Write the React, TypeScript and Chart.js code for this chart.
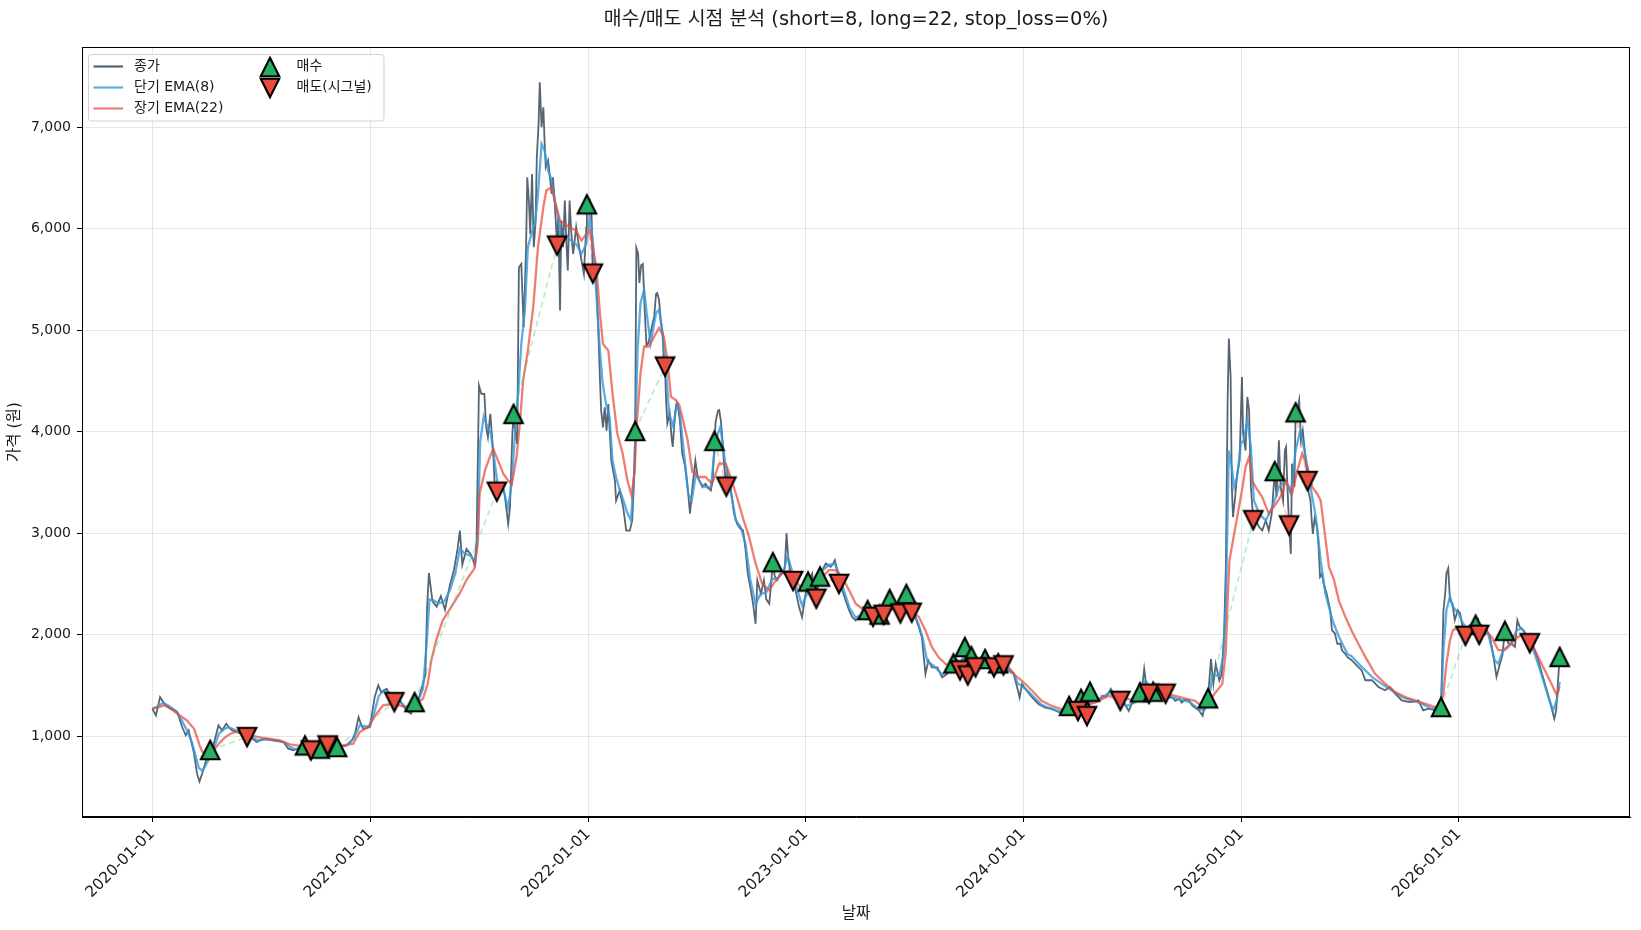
import React, { useEffect, useRef } from "react";
import { Chart, registerables } from "chart.js";

Chart.register(...registerables);

const FONT = '"DejaVu Sans", "Noto Sans CJK KR", sans-serif';
const TITLE = "매수/매도 시점 분석 (short=8, long=22, stop_loss=0%)";
const X_LABEL = "날짜";
const Y_LABEL = "가격 (원)";
const LEGEND_CLOSE = "종가";
const LEGEND_SHORT = "단기 EMA(8)";
const LEGEND_LONG = "장기 EMA(22)";
const LEGEND_BUY = "매수";
const LEGEND_SELL = "매도(시그널)";

// x values are days since 2020-01-01
const xTickDays = [0, 366, 731, 1096, 1461, 1827, 2192];
const xTickLabels = ["2020-01-01", "2021-01-01", "2022-01-01", "2023-01-01", "2024-01-01", "2025-01-01", "2026-01-01"];
const yTickValues = [1000, 2000, 3000, 4000, 5000, 6000, 7000];

const closeSeries = [
  [0,1272],[6,1207],[13,1387],[20,1321],[30,1272],[42,1239],[50,1092],[56,1010],[61,1059],[70,830],[75,633],[79,555],[84,640],[90,760],[97,860],[103,928],[111,1108],[117,1060],[124,1125],[130,1080],[134,1059],[142,1043],[153,1010],[159,993],[164,993],[175,944],[187,977],[203,961],[220,944],[228,879],[237,862],[248,895],[256,911],[262,880],[266,862],[275,890],[281,879],[288,900],[294,911],[302,890],[310,895],[326,911],[335,960],[340,1026],[346,1190],[350,1120],[354,1075],[365,1092],[373,1387],[379,1502],[384,1436],[393,1469],[400,1400],[406,1338],[415,1354],[426,1256],[434,1223],[440,1338],[446,1354],[454,1518],[458,1600],[461,2278],[464,2608],[470,2330],[477,2278],[484,2381],[491,2247],[499,2485],[506,2639],[512,2845],[516,3026],[520,2690],[527,2845],[534,2794],[541,2690],[544,2928],[548,4455],[552,4373],[557,4373],[560,4045],[563,3946],[567,4176],[572,3782],[575,3388],[578,3410],[583,3420],[587,3486],[591,3388],[597,3092],[600,3256],[604,3978],[606,4176],[608,4044],[612,3880],[615,5621],[619,5653],[623,5030],[627,5818],[629,6507],[632,6245],[634,5949],[637,6540],[640,5818],[643,6080],[645,6704],[648,7033],[650,7443],[653,7000],[656,7197],[658,6869],[660,6606],[664,6672],[667,6507],[670,6343],[672,6507],[675,6277],[679,5834],[681,6113],[684,5194],[686,6080],[689,5818],[692,6277],[695,5818],[697,5588],[700,6277],[703,5949],[706,5752],[711,6015],[716,5818],[720,5686],[724,5555],[728,6015],[729,6241],[734,6277],[737,6113],[739,5558],[744,5555],[748,5030],[751,4504],[753,4209],[756,4044],[759,4241],[762,4011],[765,4274],[767,4044],[770,3716],[773,3617],[776,3519],[778,3322],[784,3420],[790,3256],[795,3026],[801,3026],[805,3125],[808,3500],[810,4008],[812,5812],[815,5752],[817,5466],[820,5640],[823,5653],[826,5194],[829,4850],[832,4873],[836,4972],[839,5062],[842,5137],[845,5358],[847,5367],[850,5301],[853,5100],[856,4972],[858,4700],[860,4642],[862,4300],[864,4083],[868,4181],[871,3950],[873,3852],[877,4181],[879,4274],[881,4280],[885,4115],[889,3786],[894,3654],[898,3456],[902,3193],[904,3322],[906,3456],[911,3716],[915,3552],[918,3519],[923,3456],[928,3489],[932,3450],[937,3423],[940,3519],[943,3910],[945,4100],[949,4209],[951,4214],[954,4100],[957,3880],[959,3687],[963,3460],[965,3588],[968,3453],[970,3456],[976,3193],[981,3094],[986,3050],[991,3030],[995,2850],[999,2600],[1004,2440],[1008,2300],[1012,2109],[1015,2538],[1021,2406],[1026,2538],[1030,2350],[1035,2307],[1038,2500],[1041,2716],[1044,2580],[1048,2538],[1053,2600],[1057,2604],[1061,2650],[1064,3000],[1067,2736],[1071,2600],[1075,2531],[1079,2439],[1085,2274],[1090,2175],[1096,2406],[1100,2525],[1104,2560],[1107,2604],[1110,2450],[1114,2356],[1117,2500],[1120,2574],[1125,2650],[1130,2703],[1135,2680],[1138,2670],[1142,2700],[1145,2736],[1149,2637],[1152,2502],[1157,2450],[1163,2340],[1169,2241],[1174,2175],[1180,2142],[1186,2180],[1191,2208],[1196,2230],[1200,2244],[1205,2220],[1209,2178],[1214,2230],[1220,2200],[1224,2224],[1227,2198],[1232,2280],[1237,2353],[1242,2300],[1247,2274],[1251,2260],[1255,2211],[1260,2300],[1265,2403],[1269,2300],[1274,2218],[1280,2175],[1286,2076],[1291,1977],[1297,1614],[1302,1746],[1308,1680],[1317,1680],[1325,1581],[1333,1614],[1339,1680],[1344,1719],[1350,1746],[1355,1650],[1358,1730],[1363,1881],[1368,1600],[1370,1713],[1374,1790],[1378,1720],[1381,1680],[1387,1740],[1392,1713],[1397,1762],[1403,1713],[1408,1720],[1412,1680],[1416,1700],[1419,1720],[1425,1696],[1428,1700],[1437,1647],[1445,1614],[1451,1482],[1455,1383],[1459,1515],[1467,1449],[1476,1383],[1487,1317],[1498,1284],[1509,1270],[1520,1240],[1532,1218],[1538,1300],[1543,1250],[1548,1280],[1553,1250],[1558,1370],[1563,1300],[1568,1200],[1573,1440],[1578,1350],[1583,1360],[1589,1369],[1595,1400],[1600,1390],[1608,1467],[1612,1420],[1616,1402],[1620,1380],[1624,1350],[1628,1320],[1633,1303],[1638,1251],[1643,1320],[1649,1350],[1653,1400],[1657,1434],[1661,1500],[1664,1665],[1668,1482],[1672,1420],[1676,1460],[1679,1440],[1684,1430],[1689,1467],[1695,1420],[1700,1420],[1706,1385],[1712,1380],[1716,1350],[1723,1369],[1727,1333],[1732,1360],[1739,1352],[1745,1300],[1749,1284],[1756,1254],[1762,1204],[1767,1352],[1771,1375],[1776,1763],[1780,1517],[1784,1714],[1790,1550],[1794,1615],[1798,2010],[1801,2667],[1804,4310],[1806,4918],[1809,4540],[1811,3455],[1813,3160],[1816,3324],[1820,3587],[1824,3718],[1828,4540],[1830,3981],[1834,3817],[1837,4343],[1840,4211],[1843,3455],[1847,3130],[1851,3127],[1857,3061],[1862,3028],[1868,3127],[1873,3028],[1878,3193],[1883,3613],[1886,3357],[1890,3916],[1893,3455],[1897,3324],[1900,3817],[1902,3850],[1904,3500],[1907,3078],[1910,2798],[1912,3686],[1916,3455],[1918,4192],[1921,4211],[1924,4310],[1927,3916],[1930,4014],[1935,3718],[1938,3515],[1940,3400],[1943,3324],[1945,3132],[1947,2995],[1950,3150],[1954,3066],[1956,2930],[1959,2572],[1962,2600],[1965,2507],[1970,2408],[1976,2243],[1979,2046],[1984,2013],[1988,1911],[1993,1914],[1996,1845],[2001,1816],[2005,1780],[2012,1750],[2023,1684],[2029,1650],[2035,1553],[2046,1553],[2057,1487],[2068,1454],[2076,1487],[2085,1421],[2096,1355],[2107,1339],[2115,1339],[2124,1355],[2132,1257],[2141,1273],[2152,1257],[2158,1280],[2162,1289],[2166,2243],[2169,2408],[2171,2605],[2174,2655],[2177,2342],[2181,2309],[2185,2145],[2190,2243],[2194,2211],[2199,2046],[2203,1990],[2208,2013],[2213,2080],[2216,2112],[2220,2100],[2224,2145],[2226,2000],[2230,2080],[2236,2079],[2244,1980],[2250,1783],[2255,1586],[2261,1717],[2265,1800],[2269,2040],[2275,1914],[2280,1914],[2286,1882],[2290,2145],[2294,2079],[2300,2046],[2305,2000],[2311,1918],[2317,1882],[2325,1750],[2333,1586],[2341,1421],[2347,1289],[2352,1174],[2355,1250],[2358,1520],[2361,1783]
];

const emaShortSeries = [
  [0,1272],[10,1300],[18,1330],[28,1300],[40,1250],[50,1150],[58,1060],[66,950],[72,820],[78,690],[84,660],[90,720],[97,800],[104,900],[112,1030],[120,1070],[128,1090],[136,1070],[145,1045],[155,1015],[165,998],[177,960],[190,970],[205,962],[220,945],[230,900],[240,872],[250,885],[262,880],[275,885],[290,895],[305,898],[325,908],[338,980],[348,1110],[356,1100],[365,1095],[373,1250],[380,1400],[388,1450],[396,1440],[405,1380],[415,1350],[427,1270],[436,1250],[445,1330],[454,1470],[460,1900],[465,2350],[472,2340],[480,2310],[490,2330],[500,2450],[508,2600],[516,2850],[524,2800],[534,2780],[542,2720],[546,3000],[550,3900],[556,4150],[562,4050],[568,3980],[574,3716],[580,3453],[589,3420],[597,3250],[603,3500],[608,3946],[614,4400],[619,4865],[625,5200],[630,5818],[636,5949],[642,6050],[647,6343],[653,6836],[658,6770],[664,6573],[670,6475],[675,6277],[681,6113],[686,5883],[695,5916],[703,5883],[711,5850],[720,5752],[728,5850],[734,6113],[739,5883],[745,5358],[750,4873],[755,4500],[761,4280],[767,4150],[772,3720],[778,3550],[783,3450],[790,3330],[797,3200],[803,3127],[809,3654],[814,4807],[819,5269],[825,5400],[830,5137],[836,4873],[845,5170],[850,5203],[856,4972],[862,4577],[867,4181],[874,4049],[880,4280],[885,4181],[892,3786],[899,3390],[905,3325],[912,3588],[920,3489],[928,3456],[937,3456],[945,3918],[953,4049],[962,3654],[970,3423],[979,3127],[987,3061],[995,2900],[1003,2550],[1012,2300],[1020,2400],[1030,2420],[1040,2550],[1050,2560],[1060,2650],[1066,2780],[1072,2650],[1080,2480],[1090,2290],[1100,2430],[1110,2530],[1122,2620],[1135,2690],[1145,2700],[1152,2600],[1160,2440],[1170,2260],[1180,2170],[1192,2200],[1205,2230],[1220,2230],[1237,2310],[1250,2270],[1265,2350],[1275,2250],[1285,2110],[1292,1980],[1300,1740],[1310,1700],[1325,1610],[1340,1670],[1350,1720],[1363,1780],[1375,1720],[1390,1730],[1405,1720],[1420,1710],[1435,1670],[1445,1620],[1452,1520],[1460,1490],[1470,1440],[1480,1380],[1492,1310],[1505,1280],[1520,1250],[1535,1240],[1545,1280],[1558,1320],[1568,1280],[1578,1370],[1590,1370],[1605,1430],[1620,1390],[1635,1300],[1650,1340],[1660,1420],[1666,1550],[1675,1480],[1690,1450],[1705,1400],[1720,1370],[1740,1340],[1755,1270],[1765,1260],[1772,1330],[1778,1600],[1790,1600],[1797,1800],[1801,2300],[1806,3817],[1811,3653],[1815,3455],[1820,3554],[1826,3883],[1831,3916],[1837,4113],[1843,3850],[1848,3324],[1857,3193],[1868,3127],[1879,3258],[1890,3455],[1901,3521],[1910,3390],[1918,3817],[1926,4014],[1935,3751],[1943,3455],[1952,3160],[1960,2733],[1968,2404],[1980,2141],[1991,1977],[2005,1812],[2012,1790],[2029,1684],[2046,1586],[2062,1520],[2079,1454],[2096,1388],[2113,1355],[2130,1322],[2146,1273],[2162,1275],[2166,1849],[2171,2243],[2177,2375],[2182,2276],[2191,2211],[2199,2112],[2208,2046],[2219,2079],[2230,2095],[2241,2013],[2252,1750],[2258,1717],[2266,1849],[2277,1898],[2289,2046],[2297,2062],[2308,1980],[2319,1816],[2330,1618],[2342,1388],[2350,1257],[2356,1355],[2361,1536]
];

const emaLongSeries = [
  [0,1272],[10,1285],[19,1305],[30,1280],[42,1223],[50,1190],[58,1157],[65,1110],[70,1075],[75,990],[80,900],[84,846],[90,840],[97,846],[105,880],[114,944],[122,990],[131,1026],[140,1045],[148,1052],[164,1010],[187,984],[214,961],[231,921],[253,902],[276,895],[298,905],[320,911],[337,928],[348,1043],[362,1092],[376,1223],[387,1305],[404,1321],[420,1295],[437,1295],[454,1370],[462,1518],[468,1748],[476,1944],[487,2141],[501,2272],[515,2400],[528,2550],[540,2650],[546,2900],[549,3388],[558,3617],[566,3749],[572,3831],[580,3716],[589,3585],[597,3519],[603,3486],[611,3749],[617,4110],[622,4504],[630,4800],[639,5227],[647,5818],[656,6212],[661,6376],[670,6409],[675,6277],[684,6080],[692,6048],[700,6015],[711,5982],[720,5883],[728,5949],[734,5982],[739,5818],[745,5621],[751,5161],[756,4865],[765,4800],[772,4379],[780,3984],[789,3786],[797,3522],[804,3370],[809,3600],[813,4100],[819,4577],[825,4840],[833,4840],[842,4940],[850,5022],[858,4940],[864,4708],[870,4346],[878,4313],[884,4264],[889,4148],[898,3918],[906,3605],[917,3555],[928,3555],[939,3489],[951,3687],[962,3687],[970,3555],[979,3390],[984,3292],[992,3127],[1001,2967],[1012,2703],[1023,2505],[1035,2439],[1046,2538],[1057,2604],[1068,2637],[1079,2538],[1090,2439],[1102,2472],[1113,2505],[1124,2571],[1135,2637],[1146,2637],[1157,2571],[1169,2439],[1180,2307],[1191,2257],[1202,2224],[1224,2241],[1247,2257],[1269,2257],[1286,2175],[1297,2043],[1308,1878],[1319,1779],[1331,1713],[1347,1680],[1370,1729],[1392,1729],[1414,1746],[1437,1680],[1448,1597],[1459,1548],[1476,1449],[1492,1350],[1509,1300],[1526,1267],[1543,1251],[1560,1300],[1582,1333],[1604,1399],[1627,1383],[1649,1350],[1666,1416],[1682,1449],[1705,1416],[1727,1383],[1749,1350],[1756,1319],[1773,1352],[1784,1434],[1795,1517],[1801,1845],[1804,2338],[1807,2733],[1815,2996],[1823,3258],[1829,3455],[1834,3653],[1840,3751],[1845,3521],[1851,3455],[1862,3357],[1873,3193],[1885,3291],[1896,3390],[1901,3521],[1907,3455],[1912,3390],[1921,3620],[1929,3784],[1938,3653],[1946,3455],[1954,3390],[1960,3324],[1967,3000],[1974,2667],[1982,2550],[1991,2330],[2002,2170],[2012,2040],[2023,1914],[2035,1783],[2051,1618],[2068,1520],[2085,1438],[2102,1388],[2118,1355],[2135,1322],[2152,1289],[2160,1273],[2166,1421],[2171,1717],[2177,1947],[2182,2046],[2191,2079],[2202,2062],[2213,2062],[2224,2079],[2236,2046],[2247,1980],[2258,1849],[2269,1849],[2280,1914],[2291,1980],[2303,2013],[2314,1914],[2325,1783],[2336,1651],[2347,1520],[2356,1405],[2361,1487]
];

const buySignals = [
  [97,866],[256,911],[281,879],[310,895],[440,1338],[606,4176],[729,6241],[810,4008],[943,3910],[1041,2716],[1100,2525],[1120,2574],[1200,2244],[1220,2200],[1237,2353],[1265,2403],[1344,1719],[1363,1881],[1374,1790],[1397,1762],[1419,1720],[1538,1300],[1558,1370],[1573,1440],[1657,1434],[1679,1440],[1771,1375],[1883,3613],[1918,4192],[2162,1289],[2220,2100],[2269,2040],[2361,1783]
];

const sellSignals = [
  [159,993],[266,862],[294,911],[406,1338],[578,3410],[679,5834],[739,5558],[860,4642],[963,3460],[1075,2531],[1114,2356],[1152,2502],[1209,2178],[1227,2198],[1255,2211],[1274,2218],[1355,1650],[1368,1600],[1381,1680],[1412,1680],[1428,1700],[1553,1250],[1568,1200],[1624,1350],[1672,1420],[1700,1420],[1847,3130],[1907,3078],[1938,3515],[2203,1990],[2226,2000],[2311,1918]
];

const COLORS = {
  close: "rgba(44,62,80,0.8)",
  short: "rgba(52,152,219,0.8)",
  long: "rgba(231,76,60,0.72)",
  buy: "#27ae60",
  sell: "#e74c3c",
  tradeWin: "rgba(46,204,113,0.35)",
  tradeLoss: "rgba(231,76,60,0.3)",
  grid: "rgba(176,176,176,0.32)",
  text: "#1a1a1a",
};

function makeTriangle(up: boolean, fill: string): HTMLCanvasElement {
  const c = document.createElement("canvas");
  c.width = 30;
  c.height = 30;
  const g = c.getContext("2d") as CanvasRenderingContext2D;
  const cx = 15, cy = 15, h = 9.25;
  g.beginPath();
  if (up) {
    g.moveTo(cx, cy - h);
    g.lineTo(cx + h, cy + h);
    g.lineTo(cx - h, cy + h);
  } else {
    g.moveTo(cx, cy + h);
    g.lineTo(cx - h, cy - h);
    g.lineTo(cx + h, cy - h);
  }
  g.closePath();
  g.fillStyle = fill;
  g.fill();
  g.lineWidth = 2.1;
  g.lineJoin = "miter";
  g.miterLimit = 10;
  g.strokeStyle = "#000";
  g.stroke();
  return c;
}

const toPoints = (s: number[][]) => s.map(([x, y]) => ({ x, y }));

export default function App() {
  const ref = useRef<HTMLCanvasElement | null>(null);

  useEffect(() => {
    const canvas = ref.current;
    if (!canvas) return;
    const upImg = makeTriangle(true, COLORS.buy);
    const downImg = makeTriangle(false, COLORS.sell);

    const tradeSets = buySignals
      .map((b, i) => {
        const s = sellSignals[i];
        if (!s) return null;
        return {
          type: "line",
          data: [{ x: b[0], y: b[1] }, { x: s[0], y: s[1] }],
          borderColor: s[1] > b[1] ? COLORS.tradeWin : COLORS.tradeLoss,
          borderWidth: 1.7,
          borderDash: [6, 4],
          pointRadius: 0,
          order: 3,
        };
      })
      .filter(Boolean);

    const decor = {
      id: "decor",
      afterDraw(chart: any) {
        const { ctx, chartArea: a } = chart;
        ctx.save();
        ctx.strokeStyle = "#000";
        ctx.lineWidth = 1;
        ctx.strokeRect(Math.round(a.left) + 0.5, Math.round(a.top) + 0.5, Math.round(a.right - a.left) - 1, Math.round(a.bottom - a.top) - 1);

        ctx.fillStyle = COLORS.text;
        ctx.textAlign = "center";
        ctx.textBaseline = "middle";
        ctx.font = `19.4px ${FONT}`;
        ctx.fillText(TITLE, (a.left + a.right) / 2, 20);
        ctx.font = `15.5px ${FONT}`;
        ctx.fillText(X_LABEL, (a.left + a.right) / 2, 914);
        ctx.save();
        ctx.translate(15, (a.top + a.bottom) / 2);
        ctx.rotate(-Math.PI / 2);
        ctx.fillText(Y_LABEL, 0, 0);
        ctx.restore();

        // legend
        const lx = 88.5, ly = 54.5, lw = 295.5, lh = 66.5;
        ctx.beginPath();
        if ((ctx as any).roundRect) (ctx as any).roundRect(lx, ly, lw, lh, 3);
        else ctx.rect(lx, ly, lw, lh);
        ctx.fillStyle = "rgba(255,255,255,0.85)";
        ctx.fill();
        ctx.strokeStyle = "rgba(204,204,204,0.9)";
        ctx.lineWidth = 1;
        ctx.stroke();

        const rows = [66.5, 87.5, 108.5];
        const lineItems = [
          [COLORS.close, LEGEND_CLOSE],
          [COLORS.short, LEGEND_SHORT],
          [COLORS.long, LEGEND_LONG],
        ];
        ctx.font = `14px ${FONT}`;
        ctx.textAlign = "left";
        ctx.textBaseline = "middle";
        lineItems.forEach(([col, label], i) => {
          ctx.beginPath();
          ctx.strokeStyle = col;
          ctx.lineWidth = 2.2;
          ctx.moveTo(93.5, rows[i]);
          ctx.lineTo(123, rows[i]);
          ctx.stroke();
          ctx.fillStyle = COLORS.text;
          ctx.fillText(label, 134, rows[i]);
        });
        ctx.drawImage(upImg, 270 - 15, 67 - 15);
        ctx.drawImage(downImg, 270 - 15, 88 - 15);
        ctx.fillStyle = COLORS.text;
        ctx.fillText(LEGEND_BUY, 296.5, rows[0]);
        ctx.fillText(LEGEND_SELL, 296.5, rows[1]);
        ctx.restore();
      },
    };

    const chart = new Chart(canvas, {
      type: "line",
      data: {
        datasets: [
          { type: "line", data: toPoints(closeSeries), borderColor: COLORS.close, borderWidth: 1.8, pointRadius: 0, order: 6 },
          { type: "line", data: toPoints(emaShortSeries), borderColor: COLORS.short, borderWidth: 2.3, pointRadius: 0, order: 5 },
          { type: "line", data: toPoints(emaLongSeries), borderColor: COLORS.long, borderWidth: 2.3, pointRadius: 0, order: 4 },
          ...(tradeSets as any[]),
          { type: "line", data: toPoints(buySignals), showLine: false, pointStyle: upImg as any, pointRadius: 10, order: 2 },
          { type: "line", data: toPoints(sellSignals), showLine: false, pointStyle: downImg as any, pointRadius: 10, order: 1 },
        ] as any,
      },
      options: {
        animation: false,
        responsive: false,
        maintainAspectRatio: false,
        devicePixelRatio: 1,
        events: [],
        layout: { padding: { left: 0, top: 47, right: 10, bottom: 0 } },
        plugins: { legend: { display: false }, tooltip: { enabled: false }, title: { display: false } },
        scales: {
          x: {
            type: "linear",
            min: -118,
            max: 2479,
            afterBuildTicks: (s: any) => {
              s.ticks = xTickDays.map((v) => ({ value: v }));
            },
            afterFit: (s: any) => {
              s.height = 113;
            },
            ticks: {
              autoSkip: false,
              maxRotation: 45,
              minRotation: 45,
              padding: 3,
              color: COLORS.text,
              font: { family: FONT, size: 15.5 },
              callback: (v: any) => {
                const i = xTickDays.indexOf(Number(v));
                return i >= 0 ? xTickLabels[i] : "";
              },
            },
            grid: { color: COLORS.grid, lineWidth: 1, tickColor: "#000", tickLength: 5, drawTicks: true },
            border: { color: "#000", width: 1 },
          },
          y: {
            type: "linear",
            min: 206,
            max: 7790,
            afterBuildTicks: (s: any) => {
              s.ticks = yTickValues.map((v) => ({ value: v }));
            },
            afterFit: (s: any) => {
              s.width = 82;
            },
            ticks: {
              padding: 6,
              color: COLORS.text,
              font: { family: FONT, size: 14 },
              callback: (v: any) => Number(v).toLocaleString("en-US"),
            },
            grid: { color: COLORS.grid, lineWidth: 1, tickColor: "#000", tickLength: 5, drawTicks: true },
            border: { color: "#000", width: 1 },
          },
        },
      } as any,
      plugins: [decor],
    });

    return () => chart.destroy();
  }, []);

  return (
    <div style={{ position: "fixed", left: 0, top: 0, width: 1641, height: 930, background: "#fff" }}>
      <canvas ref={ref} width={1641} height={930} style={{ display: "block", width: 1641, height: 930 }} />
    </div>
  );
}
